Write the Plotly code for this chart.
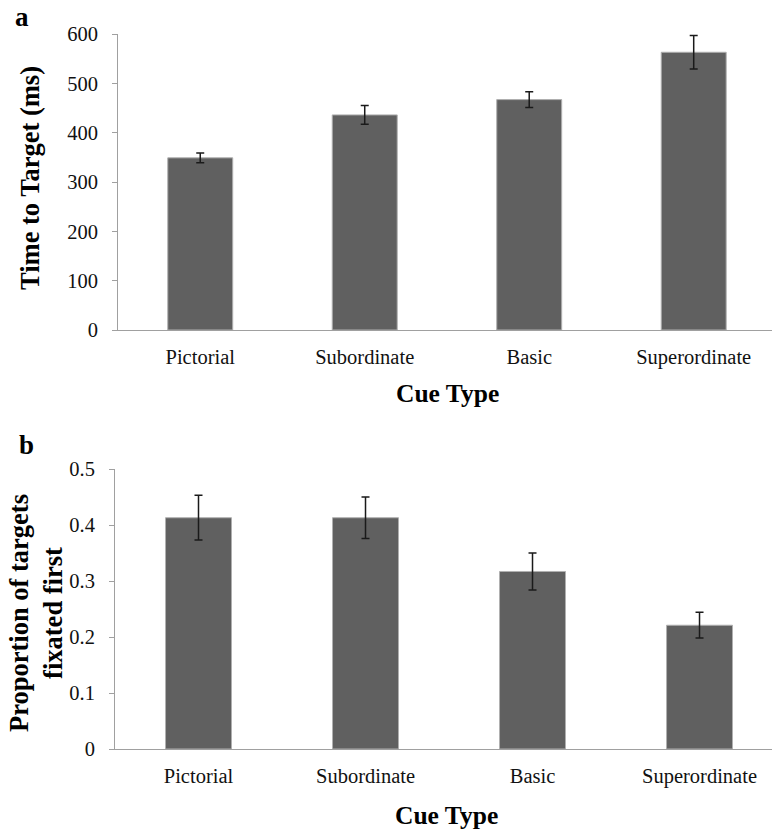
import plotly.graph_objects as go

categories = ["Pictorial", "Subordinate", "Basic", "Superordinate"]
time_to_target = [349, 436, 467, 563]
time_err = [10, 19, 16, 34]
prop_first = [0.413, 0.413, 0.317, 0.221]
prop_err = [0.040, 0.037, 0.033, 0.023]
y1_ticks = [0, 100, 200, 300, 400, 500, 600]
y2_ticks = [0, 0.1, 0.2, 0.3, 0.4, 0.5]
y2_ticktext = ["0", "0.1", "0.2", "0.3", "0.4", "0.5"]

W, H = 772, 836
FONT = "Liberation Serif, Times New Roman, serif"
BAR = "#606060"
AX = "#a0a0a0"

def fy(p):
    return (H - p) / H

def fx(p):
    return p / W

fig = go.Figure()
fig.add_trace(go.Bar(
    x=list(range(len(categories))), y=time_to_target,
    marker=dict(color=BAR, line=dict(color="#b0b0b0", width=1)),
    error_y=dict(type="data", array=time_err, color="#1a1a1a", thickness=1.5, width=4),
    xaxis="x", yaxis="y", showlegend=False,
))
fig.add_trace(go.Bar(
    x=list(range(len(categories))), y=prop_first,
    marker=dict(color=BAR, line=dict(color="#b0b0b0", width=1)),
    error_y=dict(type="data", array=prop_err, color="#1a1a1a", thickness=1.5, width=4),
    xaxis="x2", yaxis="y2", showlegend=False,
))

common_x = dict(
    tickmode="array", tickvals=list(range(len(categories))), ticktext=categories,
    showline=True, linecolor=AX, linewidth=1, ticks="", showgrid=False, zeroline=False,
    tickfont=dict(family=FONT, size=20.5, color="#111"), ticklabelstandoff=8,
    automargin=False,
)
common_y = dict(
    showline=True, linecolor=AX, linewidth=1, ticks="outside", ticklen=5, tickcolor=AX,
    showgrid=False, zeroline=False, tickfont=dict(family=FONT, size=20.5, color="#111"),
    ticklabelstandoff=10, automargin=False, tickmode="array",
)

fig.update_layout(
    width=W, height=H,
    margin=dict(l=0, r=0, t=0, b=0, autoexpand=False),
    paper_bgcolor="white", plot_bgcolor="white",
    bargap=0.605,
    xaxis=dict(domain=[fx(118), 1], range=[-0.5, 3.476], anchor="y", **common_x),
    yaxis=dict(domain=[fy(330), fy(34)], range=[0, 600], anchor="x",
               tickvals=y1_ticks, ticktext=[str(v) for v in y1_ticks], **common_y),
    xaxis2=dict(domain=[fx(115), 1], range=[-0.5, 3.434], anchor="y2", **common_x),
    yaxis2=dict(domain=[fy(749), fy(469)], range=[0, 0.5], anchor="x2",
                tickvals=y2_ticks, ticktext=y2_ticktext, **common_y),
)

anns = [
    dict(text="<b>a</b>", x=fx(22), y=fy(17), size=27, angle=0),
    dict(text="<b>b</b>", x=fx(26), y=fy(445), size=27, angle=0),
    dict(text="<b>Time to Target (ms)</b>", x=fx(30), y=fy(178), size=26.5, angle=-90),
    dict(text="<b>Proportion of targets<br>fixated first</b>", x=fx(36), y=fy(613), size=26.5, angle=-90),
    dict(text="<b>Cue Type</b>", x=fx(448), y=fy(393), size=25.5, angle=0),
    dict(text="<b>Cue Type</b>", x=fx(446), y=fy(815), size=25.5, angle=0),
]
for a in anns:
    fig.add_annotation(text=a["text"], x=a["x"], y=a["y"], xref="paper", yref="paper",
                       xanchor="center", yanchor="middle", showarrow=False, textangle=a["angle"],
                       font=dict(family=FONT, size=a["size"], color="#000"))

fig.write_html("out.html",
               config={"displayModeBar": False, "staticPlot": True},
               post_script="document.body.style.margin='0';document.body.style.overflow='hidden';")
